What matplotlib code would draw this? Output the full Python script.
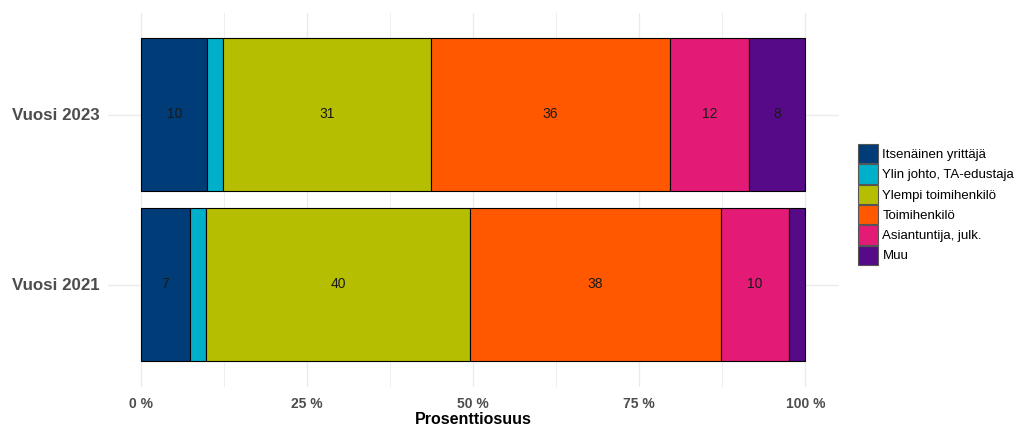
import matplotlib
matplotlib.use("Agg")
import matplotlib.pyplot as plt
from matplotlib.patches import Patch
import numpy as np

plt.rcParams['font.family'] = ['Liberation Sans', 'DejaVu Sans']

years = ["Vuosi 2021", "Vuosi 2023"]
categories = ["Itsenäinen yrittäjä", "Ylin johto, TA-edustaja", "Ylempi toimihenkilö",
              "Toimihenkilö", "Asiantuntija, julk.", "Muu"]
colors = ["#003C78", "#00AFCA", "#B5BE00", "#FF5800", "#E31A76", "#570A87"]
# share (%) per category, order: [2021, 2023]
itsenainen = [7.4, 10.0]
ylin_johto = [2.4, 2.4]
ylempi = [39.7, 31.2]
toimihenkilo = [37.8, 36.0]
asiantuntija = [10.2, 12.0]
muu = [2.5, 8.4]
series = [itsenainen, ylin_johto, ylempi, toimihenkilo, asiantuntija, muu]
xticks = [0, 25, 50, 75, 100]
xticklabels = ["0 %", "25 %", "50 %", "75 %", "100 %"]

fig = plt.figure(figsize=(10.15, 4.26), dpi=100)
ax = fig.add_axes([107.8/1015, 1-386.5/426, (838.5-107.8)/1015, (386.5-12.5)/426])

ypos = np.arange(1, len(years)+1)
left = np.zeros(len(years))
for name, vals, col in zip(categories, series, colors):
    vals = np.array(vals)
    ax.barh(ypos, vals, left=left, height=0.9, color=col, edgecolor="black",
            linewidth=0.8, zorder=3)
    for y, l, v in zip(ypos, left, vals):
        if v >= 5:
            ax.text(l + v/2, y, f"{round(v):d}", ha="center", va="center",
                    fontsize=10, color="#1a1a1a", zorder=4)
    left += vals

ax.set_xlim(-5, 105)
ax.set_ylim(0.4, 2.6)
ax.set_xticks(xticks)
ax.set_xticklabels(xticklabels, fontsize=10, fontweight="bold", color="#4D4D4D")
ax.set_xticks([12.5, 37.5, 62.5, 87.5], minor=True)
ax.set_yticks(ypos)
ax.set_yticklabels(years, fontsize=12.2, fontweight="bold", color="#4D4D4D")
ax.tick_params(axis="both", which="both", length=0)
ax.tick_params(axis="x", pad=7.5)
ax.tick_params(axis="y", pad=6)
ax.grid(True, which="major", color="#EBEBEB", linewidth=1.0, zorder=0)
ax.grid(True, which="minor", axis="x", color="#EBEBEB", linewidth=0.6, zorder=0)
for s in ax.spines.values():
    s.set_visible(False)
ax.set_xlabel("Prosenttiosuus", fontsize=11.5, fontweight="bold", color="black", labelpad=1)

handles = [Patch(facecolor=c, edgecolor="#555555", linewidth=0.8) for c in colors]
fig.legend(handles, categories, loc="upper left", bbox_to_anchor=(858/1015, 1-144/426),
           frameon=False, fontsize=9.5, handlelength=1.55, handleheight=1.87,
           labelspacing=0.08, handletextpad=0.3, borderpad=0, borderaxespad=0)

fig.savefig("out.png", dpi=100)
